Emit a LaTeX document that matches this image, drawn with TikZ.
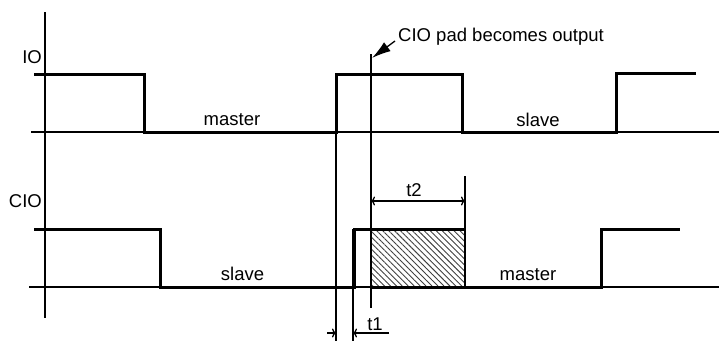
\documentclass[tikz,border=0pt]{standalone}
\usepackage{fontspec}
\setmainfont{Liberation Sans}
\usetikzlibrary{arrows.meta,patterns.meta}
\begin{document}
\begin{tikzpicture}[x=1pt,y=-1pt,
  signal/.style={line width=3pt,line join=miter,line cap=butt},
  thin/.style={line width=1.3pt},
  lbl/.style={font=\fontsize{18.5}{20}\selectfont,inner sep=0pt},
  dimarrow/.style={thin,-{To[length=4pt,width=9pt]}},
  callout/.style={thin,-{Latex[length=19pt,width=11pt]}},
  hatch/.style={pattern={Lines[angle=-45,distance=4.2pt,line width=0.9pt]},pattern color=black!75}
]
\useasboundingbox (0,0) rectangle (719,341);
% axis and baselines
\coordinate (axT) at (45,12);
\coordinate (axB) at (45,318);
\draw[thin] (axT) -- (axB);
\coordinate (ioL) at (31,132);
\coordinate (ioR) at (719,132);
\draw[thin] (ioL) -- (ioR);
\coordinate (cioL) at (29,287);
\coordinate (cioR) at (719,287);
\draw[thin] (cioL) -- (cioR);
% hatched region
\coordinate (hA) at (371,229);
\coordinate (hB) at (465,287);
\fill[hatch] (hA) rectangle (hB);
% IO waveform
\draw[signal] (34,74) -- (144,74) -- (144,132) -- (336,132) -- (336,74) -- (462,74) -- (462,132) -- (616,132) -- (616,73) -- (696,73);
% CIO waveform
\draw[signal] (34,229) -- (160,229) -- (160,287) -- (354,287) -- (354,229) -- (466,229);
\draw[signal] (371,287) -- (601,287) -- (601,229) -- (680,229);
% vertical guides
\coordinate (g1T) at (336,74);
\coordinate (g1B) at (336,341);
\draw[thin] (g1T) -- (g1B);
\coordinate (g2T) at (353,229);
\coordinate (g2B) at (353,341);
\draw[thin] (g2T) -- (g2B);
\coordinate (g3T) at (371,54);
\coordinate (g3B) at (371,308);
\draw[thin] (g3T) -- (g3B);
\coordinate (g4T) at (465,176);
\coordinate (g4B) at (465,287);
\draw[thin] (g4T) -- (g4B);
% t2 dimension
\coordinate (t2L) at (371,201);
\coordinate (t2R) at (465,201);
\coordinate (t2M) at (418,201);
\draw[dimarrow] (t2M) -- (t2L);
\draw[dimarrow] (t2M) -- (t2R);
\node[lbl] (t2) at (414,190) {t2};
% t1 dimension
\coordinate (t1a) at (327,333);
\coordinate (t1b) at (336,333);
\coordinate (t1c) at (353,333);
\coordinate (t1d) at (389,333);
\draw[dimarrow] (t1a) -- (t1b);
\draw[dimarrow] (t1d) -- (t1c);
\node[lbl] (t1) at (375,324) {t1};
% callout
\node[lbl,anchor=base west] (cap) at (398,41) {CIO pad becomes output};
\coordinate (cTail) at (395,41);
\coordinate (cTip) at (372,58);
\draw[callout] (cTail) -- (cTip);
% labels
\node[lbl,anchor=east] (io) at (42,57) {IO};
\node[lbl,anchor=east] (cio) at (42,201) {CIO};
\node[lbl] (m1) at (232,120) {master};
\node[lbl] (s1) at (538,120) {slave};
\node[lbl] (s2) at (242.5,273.5) {slave};
\node[lbl] (m2) at (528,275) {master};
\end{tikzpicture}
\end{document}
